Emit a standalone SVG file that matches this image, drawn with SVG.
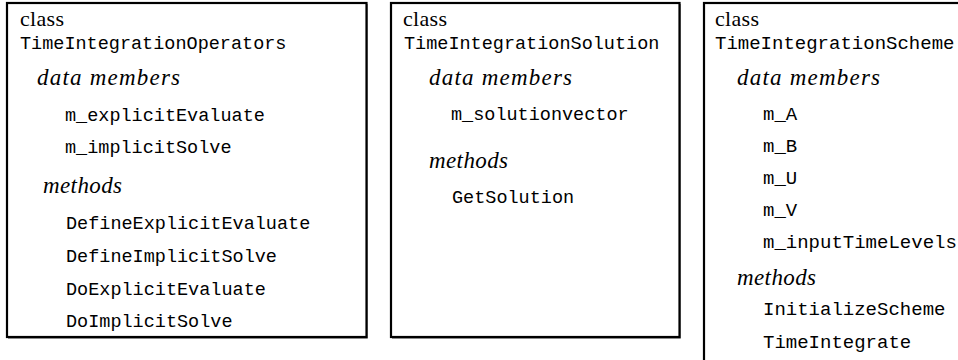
<svg xmlns="http://www.w3.org/2000/svg" width="958" height="360" viewBox="0 0 958 360">
<style>
.box{fill:#fff;stroke:#000;stroke-width:2.2}
.shadow{fill:none;stroke:#9a9a9a;stroke-width:1}
.cls{font-family:"Liberation Serif",serif;font-size:22px;fill:#000}
.sec{font-family:"Liberation Serif",serif;font-style:italic;font-size:23px;fill:#000}
.tt{font-family:"Liberation Mono",monospace;font-size:18.5px;fill:#000}
.tt3{font-family:"Liberation Mono",monospace;font-size:19px;fill:#000}
</style>
<rect width="958" height="360" fill="#fff"/>
<g id="TimeIntegrationOperators">
<polyline class="shadow" points="8,338.5 367.5,338.5 367.5,4"/>
<rect class="box" x="7" y="3" width="359.5" height="334"/>
<text class="cls" x="20" y="26" textLength="44">class</text>
<text class="tt" x="20" y="49">TimeIntegrationOperators</text>
<text class="sec" x="37" y="85" textLength="143">data members</text>
<text class="tt" x="65" y="121">m_explicitEvaluate</text>
<text class="tt" x="65" y="153">m_implicitSolve</text>
<text class="sec" x="43" y="193" textLength="79">methods</text>
<text class="tt" x="66" y="229">DefineExplicitEvaluate</text>
<text class="tt" x="66" y="262">DefineImplicitSolve</text>
<text class="tt" x="66" y="295">DoExplicitEvaluate</text>
<text class="tt" x="66" y="327">DoImplicitSolve</text>
</g>
<g id="TimeIntegrationSolution">
<polyline class="shadow" points="392,338.5 680.5,338.5 680.5,4"/>
<rect class="box" x="391" y="3" width="288.5" height="334"/>
<text class="cls" x="403" y="26" textLength="44">class</text>
<text class="tt" x="404" y="49">TimeIntegrationSolution</text>
<text class="sec" x="429" y="85" textLength="143">data members</text>
<text class="tt" x="451" y="120">m_solutionvector</text>
<text class="sec" x="429" y="168" textLength="79">methods</text>
<text class="tt" x="452" y="203">GetSolution</text>
</g>
<g id="TimeIntegrationScheme">
<rect class="box" x="704" y="3" width="300" height="400"/>
<text class="cls" x="715" y="26" textLength="44">class</text>
<text class="tt3" x="715" y="49">TimeIntegrationScheme</text>
<text class="sec" x="737" y="85" textLength="143">data members</text>
<text class="tt3" x="763" y="120">m_A</text>
<text class="tt3" x="763" y="152">m_B</text>
<text class="tt3" x="763" y="184">m_U</text>
<text class="tt3" x="763" y="216">m_V</text>
<text class="tt3" x="763" y="248">m_inputTimeLevels</text>
<text class="sec" x="737" y="285" textLength="79">methods</text>
<text class="tt3" x="763" y="315">InitializeScheme</text>
<text class="tt3" x="763" y="348">TimeIntegrate</text>
</g>
<g id="connectors"/>
</svg>
